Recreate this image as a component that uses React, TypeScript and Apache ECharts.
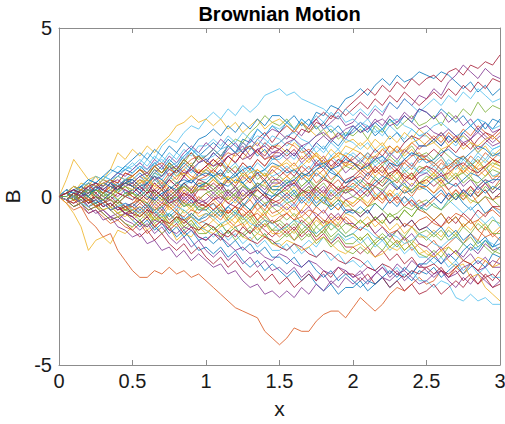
import React, { useEffect, useRef } from "react";
import * as echarts from "echarts";

const T = [0,0.05,0.1,0.15,0.2,0.25,0.3,0.35,0.4,0.45,0.5,0.55,0.6,0.65,0.7,0.75,0.8,0.85,0.9,0.95,1,1.05,1.1,1.15,1.2,1.25,1.3,1.35,1.4,1.45,1.5,1.55,1.6,1.65,1.7,1.75,1.8,1.85,1.9,1.95,2,2.05,2.1,2.15,2.2,2.25,2.3,2.35,2.4,2.45,2.5,2.55,2.6,2.65,2.7,2.75,2.8,2.85,2.9,2.95,3];

const COLORS = ["#0072BD", "#D95319", "#EDB120", "#7E2F8E", "#77AC30", "#4DBEEE", "#A2142F"];

const b00 = [0,0.2,-0.1,0.1,0.3,0.0,0.2,0.4,0.1,0.5,0.3,0.1,0.4,0.6,0.3,0.5,0.8,0.6,0.9,1.2,1.0,1.3,1.1,1.5,1.3,1.7,1.6,2.0,1.8,2.1,1.9,2.2,2.0,2.3,2.1,2.5,2.4,2.7,2.6,2.9,3.0,3.2,3.0,3.3,3.5,3.3,3.6,3.4,3.5,3.7,3.6,3.5,3.7,3.6,3.4,3.2,3.4,3.1,3.3,3.0,3.2];
const b01 = [0,-0.2,-0.4,-0.3,-0.7,-0.9,-1.2,-1.1,-1.6,-1.9,-2.2,-2.4,-2.4,-2.2,-2.3,-2.1,-2.3,-2.2,-2.4,-2.3,-2.5,-2.7,-2.9,-3.1,-3.3,-3.4,-3.5,-3.6,-4.0,-4.2,-4.4,-4.2,-3.9,-4.0,-4.0,-3.7,-3.5,-3.4,-3.4,-3.6,-3.3,-3.0,-3.2,-3.4,-3.2,-2.9,-2.7,-2.8,-2.6,-2.4,-2.6,-2.5,-2.2,-2.4,-2.1,-2.3,-2.0,-2.2,-1.9,-2.1,-1.8];
const b02 = [0,0.5,1.1,0.8,0.5,0.6,0.3,0.5,0.2,0.4,0.4,0.6,0.5,0.8,0.7,0.9,0.6,0.8,1.0,0.7,0.8,1.0,1.2,0.9,1.3,1.1,1.4,1.6,1.3,1.5,1.5,1.3,1.6,1.4,1.1,1.3,0.9,1.1,1.2,0.9,1.0,0.8,1.1,0.7,0.9,0.6,0.8,0.5,0.7,0.4,0.5,0.7,0.4,0.6,0.9,0.7,1.0,0.8,0.6,0.9,0.8];
const b03 = [0,0.1,-0.1,0.2,0.0,0.3,0.1,0.4,0.2,0.5,0.4,0.6,0.4,0.7,0.9,0.6,0.8,1.1,0.9,1.2,1.0,1.3,1.1,1.4,1.6,1.3,1.7,1.5,1.8,2.0,1.9,1.7,2.0,1.8,2.1,2.3,2.0,2.2,2.4,2.1,2.2,2.5,2.3,2.6,2.4,2.8,2.6,2.9,2.7,3.0,2.9,3.2,3.0,3.4,3.6,3.9,3.7,3.5,3.8,3.6,3.5];
const b04 = [0,-0.1,0.1,0.2,0.0,-0.2,0.1,0.0,0.2,0.4,0.3,0.5,0.4,0.7,0.6,0.9,0.8,1.0,1.3,1.1,1.2,1.4,1.2,1.5,1.7,1.6,1.9,2.1,2.4,2.2,2.1,2.3,2.0,2.2,1.9,2.1,1.8,2.0,1.7,1.9,1.8,2.0,1.7,2.1,1.9,2.3,2.0,2.2,2.4,2.1,2.2,2.4,2.1,2.5,2.3,2.6,2.4,2.8,2.5,2.7,2.6];
const b05 = [0,0.2,0.1,0.3,0.5,0.4,0.6,0.5,0.7,0.9,0.8,1.0,1.3,1.1,1.5,1.7,1.6,1.9,2.1,2.0,2.3,2.5,2.3,2.6,2.4,2.7,2.5,2.7,3.0,3.1,3.2,3.0,3.1,2.9,2.8,2.7,2.6,2.4,2.5,2.2,2.3,2.1,2.3,2.0,1.8,2.1,1.9,1.7,2.0,1.8,1.8,1.6,1.9,1.7,1.5,1.8,1.6,1.3,1.6,1.4,1.5];
const b06 = [0,-0.1,0.1,0.0,0.2,-0.1,0.1,0.3,0.1,0.0,0.2,0.4,0.2,0.5,0.3,0.6,0.8,0.6,0.9,0.7,0.9,1.1,0.9,1.2,1.0,1.3,1.5,1.3,1.6,1.4,1.6,1.8,1.7,2.0,1.9,2.2,2.1,2.4,2.3,2.6,2.8,3.0,3.2,3.0,3.3,3.1,3.4,3.2,3.5,3.3,3.5,3.6,3.4,3.7,3.8,3.6,3.9,3.8,4.0,3.9,4.2];
const b07 = [0,-0.1,0.1,-0.2,0.0,-0.3,-0.2,-0.4,-0.3,-0.5,-0.6,-0.8,-0.6,-0.9,-1.1,-0.9,-1.2,-1.0,-1.3,-1.6,-1.5,-1.7,-1.5,-1.8,-1.6,-1.9,-2.1,-1.9,-2.2,-2.0,-2.2,-2.4,-2.2,-2.5,-2.3,-2.6,-2.8,-2.6,-2.9,-2.7,-2.7,-2.5,-2.8,-2.6,-2.4,-2.7,-2.5,-2.3,-2.5,-2.2,-2.3,-2.1,-2.4,-2.2,-2.0,-2.3,-2.1,-1.9,-2.1,-1.7,-1.8];
const b08 = [0,-0.2,-0.1,-0.3,-0.5,-0.4,-0.6,-0.8,-0.7,-0.9,-1.0,-0.8,-1.1,-0.9,-0.7,-0.9,-0.6,-0.8,-0.5,-0.7,-0.5,-0.6,-0.4,-0.7,-0.9,-0.8,-1.1,-0.9,-1.2,-1.0,-1.2,-1.0,-1.3,-1.1,-0.9,-1.2,-1.0,-0.7,-0.9,-0.6,-0.8,-1.0,-0.8,-1.1,-1.3,-1.1,-1.4,-1.2,-1.6,-1.4,-1.5,-1.3,-1.6,-1.4,-1.2,-1.4,-1.1,-1.3,-0.9,-1.2,-1.0];
const b09 = [0,-0.2,-0.5,-0.9,-1.6,-1.3,-1.2,-1.4,-1.0,-1.1,-0.9,-0.7,-1.0,-0.8,-1.1,-0.9,-1.3,-1.1,-1.2,-0.9,-1.1,-0.9,-1.2,-1.0,-0.8,-0.6,-0.9,-0.7,-0.4,-0.6,-0.5,-0.3,-0.6,-0.4,-0.1,-0.3,0.0,-0.2,-0.4,-0.1,-0.2,0.0,-0.3,-0.1,0.2,0.0,0.3,0.1,0.4,0.2,0.3,0.1,0.4,0.2,-0.1,0.1,-0.2,0.0,0.2,-0.1,0.0];
const b10 = [0,-0.1,-0.3,-0.2,-0.5,-0.4,-0.7,-0.6,-0.9,-1.0,-1.2,-1.1,-1.4,-1.3,-1.6,-1.5,-1.8,-1.6,-1.9,-1.7,-1.9,-2.1,-2.0,-2.3,-2.2,-2.5,-2.7,-2.6,-2.9,-2.8,-3.0,-2.8,-3.0,-2.7,-2.9,-2.6,-2.8,-2.5,-2.7,-2.4,-2.6,-2.4,-2.6,-2.3,-2.1,-2.4,-2.2,-2.5,-2.3,-2.0,-2.2,-2.4,-2.2,-2.5,-2.7,-2.4,-2.6,-2.3,-2.5,-2.7,-2.5];
const b11 = [0,0.1,-0.1,0.0,-0.2,0.1,-0.1,-0.3,-0.1,-0.4,-0.3,-0.1,-0.3,0.0,0.2,-0.1,0.1,0.3,0.1,0.4,0.4,0.6,0.3,0.5,0.2,0.4,0.1,0.3,0.5,0.2,0.2,0.4,0.1,0.3,0.5,0.3,0.6,0.4,0.7,0.9,0.8,1.0,0.8,1.1,0.9,1.2,1.0,1.3,1.5,1.2,1.3,1.1,1.4,1.2,1.0,1.2,0.9,1.1,0.8,1.0,0.9];
const b12 = [0,0.1,-0.1,0.0,-0.2,-0.1,-0.3,-0.2,-0.4,-0.3,-0.5,-0.3,-0.6,-0.4,-0.7,-0.5,-0.8,-0.6,-0.9,-0.7,-0.8,-1.0,-0.8,-1.1,-0.9,-1.2,-1.0,-1.3,-1.1,-1.4,-1.4,-1.6,-1.4,-1.7,-1.5,-1.8,-1.6,-1.9,-1.7,-2.0,-1.9,-2.1,-1.9,-2.2,-2.0,-2.3,-2.1,-2.4,-2.2,-2.5,-2.5,-2.7,-2.5,-2.6,-3.0,-3.1,-2.9,-3.1,-3.0,-3.2,-3.2];
const b13 = [0,0.1,0.3,0.2,0.4,0.1,0.3,0.5,0.4,0.7,0.6,0.8,0.6,0.9,0.7,1.0,0.8,1.1,1.3,1.0,1.2,1.4,1.2,1.5,1.3,1.6,1.4,1.7,1.9,1.6,1.9,2.1,1.9,2.2,2.0,2.3,2.5,2.3,2.6,2.4,2.6,2.8,2.6,2.9,2.7,3.0,2.8,3.1,2.9,2.7,2.9,3.1,2.9,3.2,3.0,3.3,3.1,3.4,3.2,3.5,3.4];
const b14 = [0,0.1,-0.1,0.2,0.0,0.3,0.1,0.2,0.4,0.1,0.2,0.0,0.2,-0.1,0.1,-0.2,0.0,-0.3,-0.1,-0.4,-0.4,-0.2,-0.5,-0.3,-0.1,-0.3,0.0,0.2,0.0,0.3,0.3,0.5,0.3,0.6,0.4,0.7,0.5,0.8,0.6,0.4,0.6,0.4,0.7,0.5,0.3,0.5,0.2,0.4,0.1,0.3,0.2,0.0,0.2,-0.1,0.1,-0.2,-0.4,-0.2,-0.5,-0.3,-0.5];
const b15 = [0,0.2,0.1,0.3,0.2,0.4,0.3,0.5,0.4,0.7,0.6,0.8,0.6,0.9,0.7,1.0,0.8,1.1,0.9,0.7,0.9,0.7,1.0,0.8,0.6,0.8,0.5,0.7,0.4,0.6,0.4,0.6,0.4,0.7,0.5,0.8,1.0,0.8,1.1,0.9,1.2,1.0,1.3,1.1,1.4,1.2,1.5,1.3,1.6,1.4,1.6,1.8,1.6,1.9,1.7,2.0,1.8,2.1,1.9,1.7,1.9];
const b16 = [0,-0.1,0.1,-0.2,0.0,-0.3,-0.1,-0.3,-0.5,-0.3,-0.4,-0.6,-0.4,-0.7,-0.5,-0.8,-0.6,-0.9,-0.7,-1.0,-0.9,-0.7,-0.9,-0.6,-0.8,-0.5,-0.7,-0.4,-0.6,-0.2,-0.3,-0.5,-0.3,-0.6,-0.8,-0.6,-0.9,-0.7,-1.0,-1.2,-1.1,-1.3,-1.1,-1.4,-1.2,-1.5,-1.3,-1.6,-1.4,-1.7,-1.6,-1.8,-1.6,-1.9,-2.1,-2.0,-2.4,-2.3,-2.7,-2.9,-3.1];
const b17 = [0,-0.1,-0.2,0.0,-0.3,-0.2,-0.4,-0.6,-0.5,-0.7,-0.8,-1.0,-0.8,-1.1,-0.9,-1.2,-1.4,-1.2,-1.5,-1.3,-1.6,-1.8,-1.6,-1.9,-1.7,-2.0,-1.8,-2.1,-1.9,-2.2,-2.1,-2.3,-2.1,-2.4,-2.2,-2.5,-2.3,-2.6,-2.4,-2.2,-2.4,-2.2,-2.5,-2.3,-2.1,-2.3,-2.0,-2.2,-1.9,-2.1,-1.9,-1.7,-2.0,-1.8,-1.6,-1.8,-1.5,-1.7,-1.4,-1.6,-1.5];
const b18 = [0,0.1,0.0,0.2,0.1,0.3,0.2,0.4,0.2,0.5,0.4,0.2,0.4,0.1,0.3,0.0,0.2,0.4,0.1,0.3,0.2,0.0,0.2,-0.1,0.1,-0.2,-0.4,-0.2,-0.5,-0.3,-0.5,-0.7,-0.5,-0.8,-0.6,-0.9,-0.7,-1.0,-0.8,-1.1,-0.9,-0.7,-0.9,-0.6,-0.8,-0.5,-0.7,-0.4,-0.6,-0.3,-0.4,-0.2,-0.4,-0.1,0.1,-0.1,0.2,0.0,0.3,0.1,0.3];
const b19 = [0,0.2,0.1,0.3,0.2,0.4,0.6,0.5,0.7,0.8,0.9,1.1,0.9,1.2,1.0,1.3,1.1,1.4,1.2,1.5,1.5,1.7,1.5,1.8,1.6,1.9,1.7,2.0,1.8,2.1,2.0,2.2,2.0,2.3,2.1,2.4,2.2,2.5,2.3,2.6,2.4,2.6,2.4,2.7,2.5,2.8,2.6,2.9,2.7,2.5,2.7,2.9,2.7,3.0,2.8,3.1,2.9,3.2,3.0,2.8,2.9];
const b20 = [0,-0.1,-0.3,-0.2,-0.4,-0.3,-0.5,-0.7,-0.6,-0.8,-1.0,-1.2,-1.0,-1.3,-1.1,-1.4,-1.6,-1.4,-1.7,-1.5,-1.8,-2.0,-1.8,-2.1,-1.9,-2.2,-2.4,-2.2,-2.5,-2.3,-2.6,-2.4,-2.7,-2.5,-2.3,-2.5,-2.2,-2.4,-2.1,-2.3,-2.3,-2.5,-2.3,-2.6,-2.4,-2.7,-2.5,-2.8,-2.6,-2.9,-2.8,-2.6,-2.9,-2.7,-2.5,-2.7,-2.4,-2.6,-2.3,-2.5,-2.2];
const b21 = [0,0.1,0.3,0.2,0.4,0.3,0.5,0.4,0.6,0.8,0.7,0.9,0.7,1.0,0.8,1.1,0.9,1.2,1.4,1.2,1.4,1.6,1.4,1.7,1.5,1.3,1.5,1.2,1.4,1.1,1.2,1.4,1.2,1.5,1.3,1.6,1.4,1.7,1.5,1.8,1.9,2.1,1.9,2.2,2.0,2.3,2.1,2.4,2.2,2.6,2.5,2.3,2.6,2.4,2.2,2.4,2.1,2.3,2.0,2.3,2.2];
const b22 = [0,0.1,-0.1,0.0,-0.2,0.1,-0.1,-0.3,-0.1,-0.3,-0.2,0.0,-0.2,0.1,-0.1,0.2,0.0,0.3,0.1,0.4,0.3,0.5,0.3,0.6,0.4,0.7,0.5,0.8,0.6,0.9,0.8,0.6,0.8,0.5,0.7,0.4,0.6,0.3,0.5,0.2,0.4,0.2,0.4,0.1,-0.1,0.1,-0.2,0.0,-0.3,-0.1,-0.3,-0.1,0.1,-0.1,0.2,0.0,0.3,0.1,0.4,0.2,0.5];
const b23 = [0,0.2,0.1,0.4,0.3,0.6,0.5,0.8,1.3,1.1,1.4,1.2,1.5,1.3,1.6,1.8,2.1,2.2,2.4,2.2,2.3,2.1,2.3,2.0,2.2,1.9,2.1,2.3,2.0,2.2,2.3,2.1,1.9,2.2,2.0,1.8,2.0,1.7,1.9,1.6,1.7,1.5,1.7,1.4,1.6,1.3,1.5,1.2,1.4,1.1,1.2,1.0,1.2,0.9,1.1,0.8,1.0,0.7,0.9,0.6,0.6];
const b24 = [0,-0.1,0.1,0.0,0.2,0.1,-0.1,0.1,0.0,0.2,0.1,0.3,0.1,0.4,0.2,0.5,0.3,0.6,0.4,0.7,0.6,0.8,0.6,0.9,0.7,1.0,0.8,1.1,0.9,1.2,1.2,1.4,1.2,1.5,1.3,1.6,1.8,1.6,1.9,1.7,2.0,2.2,2.0,2.3,2.1,2.4,2.2,2.5,2.3,2.6,2.5,2.3,2.5,2.2,2.4,2.1,2.3,2.0,2.2,1.9,2.0];
const b25 = [0,-0.1,0.1,-0.1,-0.3,-0.2,-0.4,-0.3,-0.5,-0.4,-0.5,-0.7,-0.5,-0.8,-0.6,-0.9,-0.7,-1.0,-0.8,-1.1,-1.1,-0.9,-1.2,-1.0,-1.3,-1.1,-0.9,-1.1,-0.8,-1.0,-0.8,-1.0,-0.8,-1.1,-0.9,-1.2,-1.0,-1.3,-1.1,-1.4,-1.4,-1.2,-1.5,-1.3,-1.1,-1.3,-1.0,-1.2,-0.9,-1.1,-1.0,-1.2,-1.0,-1.3,-1.1,-1.4,-1.2,-1.5,-1.3,-1.6,-1.7];
const b26 = [0,0.1,-0.1,0.1,-0.2,0.0,-0.2,-0.1,-0.3,-0.2,-0.3,-0.5,-0.3,-0.6,-0.4,-0.7,-0.5,-0.8,-0.6,-0.9,-1.0,-1.2,-1.0,-1.3,-1.1,-1.4,-1.2,-1.5,-1.3,-1.6,-1.6,-1.4,-1.7,-1.5,-1.3,-1.5,-1.2,-1.4,-1.1,-1.3,-1.2,-1.4,-1.2,-1.5,-1.3,-1.6,-1.4,-1.7,-1.5,-1.8,-1.8,-2.0,-1.8,-2.1,-1.9,-2.2,-2.0,-2.3,-2.1,-2.4,-2.4];
const b27 = [0,0.1,0.0,0.2,0.1,0.3,0.2,0.4,0.2,0.4,0.3,0.1,0.3,0.0,0.2,-0.1,0.1,-0.2,0.0,-0.3,-0.2,-0.4,-0.2,-0.5,-0.3,-0.6,-0.4,-0.7,-0.9,-0.7,-0.9,-1.1,-0.9,-1.2,-1.0,-1.3,-1.1,-1.4,-1.2,-1.5,-1.5,-1.7,-1.5,-1.8,-1.6,-1.9,-1.7,-2.0,-1.8,-2.1,-2.1,-2.3,-2.1,-2.4,-2.2,-2.5,-2.3,-2.6,-2.4,-2.7,-2.6];
const b28 = [0,-0.1,0.0,-0.2,-0.1,-0.3,-0.2,-0.4,-0.6,-0.5,-0.7,-0.9,-0.7,-1.0,-0.8,-1.1,-0.9,-1.2,-1.0,-1.3,-1.2,-1.4,-1.2,-1.5,-1.3,-1.6,-1.4,-1.7,-1.5,-1.8,-1.8,-2.0,-1.8,-2.1,-1.9,-2.2,-2.4,-2.2,-2.5,-2.3,-2.5,-2.7,-2.5,-2.6,-2.4,-2.2,-2.4,-2.1,-2.3,-2.0,-2.0,-1.8,-2.0,-1.7,-1.9,-1.6,-1.4,-1.6,-1.3,-1.5,-1.2];
const b29 = [0,0.1,0.0,0.2,0.1,0.3,0.2,0.4,0.3,0.5,0.5,0.3,0.5,0.2,0.4,0.1,0.3,0.0,0.2,-0.1,0.1,-0.1,0.1,-0.2,0.0,-0.3,-0.1,-0.4,-0.2,-0.5,-0.4,-0.2,-0.4,-0.1,-0.3,0.0,-0.2,0.1,-0.1,0.2,0.2,0.4,0.2,0.5,0.3,0.6,0.4,0.7,0.5,0.8,0.9,0.7,1.0,0.8,1.1,0.9,1.2,1.0,1.3,1.1,1.3];
const b30 = [0,0.1,-0.1,0.1,0.0,0.2,0.1,0.3,0.1,0.3,0.2,0.4,0.2,0.5,0.3,0.6,0.4,0.7,0.5,0.8,0.7,0.5,0.7,0.4,0.6,0.3,0.5,0.2,0.4,0.1,0.3,0.1,0.3,0.0,0.2,-0.1,0.1,-0.2,0.0,-0.3,-0.2,0.0,-0.2,0.1,-0.1,0.2,0.0,0.3,0.1,0.4,0.4,0.6,0.4,0.7,0.5,0.8,0.6,0.9,1.1,0.9,1.1];
const b31 = [0,0.2,0.1,0.3,0.2,0.4,0.3,0.5,0.7,0.6,0.8,1.0,0.8,1.1,0.9,1.2,1.0,1.3,1.5,1.3,1.6,1.4,1.7,1.5,1.3,1.5,1.2,1.4,1.1,1.3,1.3,1.1,1.3,1.0,1.2,0.9,1.1,0.8,1.0,0.7,0.9,1.1,0.9,1.2,1.0,1.3,1.1,1.4,1.2,1.5,1.5,1.7,1.5,1.8,1.6,1.9,1.7,2.0,1.8,1.6,1.8];
const b32 = [0,-0.1,-0.3,-0.2,-0.4,-0.3,-0.5,-0.7,-0.6,-0.8,-0.9,-0.7,-0.9,-0.6,-0.8,-0.5,-0.7,-0.4,-0.6,-0.3,-0.4,-0.6,-0.4,-0.7,-0.5,-0.8,-0.6,-0.9,-0.7,-1.0,-1.0,-1.2,-1.0,-1.3,-1.1,-1.4,-1.2,-1.5,-1.3,-1.6,-1.7,-1.5,-1.7,-1.4,-1.6,-1.3,-1.5,-1.2,-1.4,-1.1,-1.3,-1.1,-1.3,-1.0,-1.2,-0.9,-1.1,-0.8,-1.0,-0.7,-0.8];
const b33 = [0,0.1,0.3,0.2,0.4,0.6,0.5,0.7,0.9,0.8,1.0,0.8,1.1,0.9,1.2,1.0,1.3,1.1,1.4,1.2,1.2,1.4,1.2,1.5,1.3,1.6,1.4,1.7,1.5,1.8,1.7,1.5,1.7,1.4,1.6,1.3,1.5,1.2,1.4,1.1,1.3,1.1,1.3,1.0,1.2,0.9,1.1,0.8,1.0,0.7,0.7,0.9,0.7,1.0,0.8,1.1,0.9,1.2,1.0,1.3,1.2];
const b34 = [0,-0.1,0.0,-0.2,-0.1,-0.3,-0.2,-0.4,-0.3,-0.5,-0.4,-0.2,-0.4,-0.1,-0.3,0.0,-0.2,0.1,-0.1,0.2,0.2,0.4,0.2,0.5,0.3,0.6,0.4,0.7,0.5,0.8,0.6,0.8,0.6,0.9,0.7,1.0,0.8,1.1,0.9,1.2,1.0,0.8,1.0,0.7,0.9,0.6,0.8,0.5,0.7,0.4,0.5,0.3,0.5,0.2,0.4,0.1,0.3,0.0,0.2,-0.1,0.1];
const b35 = [0,0.2,0.1,0.3,0.5,0.4,0.6,0.8,0.7,0.9,1.1,1.3,1.1,1.4,1.2,1.5,1.3,1.6,1.4,1.7,1.8,2.0,1.8,2.1,1.9,2.2,2.0,2.3,2.1,2.4,2.4,2.2,2.4,2.1,2.3,2.0,2.2,1.9,2.1,1.8,2.1,1.9,2.1,1.8,2.0,1.7,1.9,1.6,1.8,1.5,1.5,1.7,1.5,1.8,1.6,1.9,2.1,1.9,2.2,2.0,2.3];
const b36 = [0,-0.1,0.0,-0.2,-0.1,-0.3,-0.2,-0.4,-0.3,-0.5,-0.6,-0.4,-0.6,-0.3,-0.5,-0.2,-0.4,-0.1,-0.3,0.0,-0.2,-0.4,-0.2,-0.5,-0.3,-0.6,-0.4,-0.7,-0.5,-0.8,-0.7,-0.5,-0.7,-0.4,-0.6,-0.3,-0.5,-0.2,-0.4,-0.1,-0.3,-0.1,-0.3,0.0,-0.2,0.1,-0.1,0.2,0.0,0.3,0.3,0.1,0.3,0.0,0.2,-0.1,0.1,-0.2,0.0,-0.3,-0.4];
const b37 = [0,0.1,-0.1,0.1,-0.1,0.2,0.0,0.2,-0.1,0.1,0.0,-0.2,0.0,-0.3,-0.1,-0.4,-0.2,-0.5,-0.3,-0.6,-0.5,-0.7,-0.5,-0.8,-0.6,-0.9,-0.7,-1.0,-0.8,-1.1,-1.1,-0.9,-1.1,-0.8,-1.0,-0.7,-0.9,-0.6,-0.8,-0.5,-0.6,-0.8,-0.6,-0.9,-0.7,-1.0,-0.8,-1.1,-0.9,-1.2,-1.2,-1.0,-1.2,-0.9,-1.1,-0.8,-1.0,-0.7,-0.9,-1.1,-0.9];
const b38 = [0,0.1,-0.1,0.0,-0.2,-0.1,-0.3,-0.2,-0.4,-0.2,-0.3,-0.1,-0.3,0.0,-0.2,0.1,-0.1,0.2,0.0,0.3,0.3,0.1,0.3,0.0,0.2,-0.1,0.1,-0.2,0.0,-0.3,-0.2,-0.4,-0.2,-0.5,-0.3,-0.6,-0.4,-0.7,-0.5,-0.8,-0.8,-1.0,-0.8,-1.1,-0.9,-1.2,-1.0,-1.3,-1.1,-1.4,-1.5,-1.7,-1.5,-1.8,-1.6,-1.9,-1.7,-2.0,-1.8,-2.1,-2.1];
const b39 = [0,0.1,0.0,0.2,0.1,0.3,0.2,0.4,0.3,0.5,0.6,0.8,0.6,0.9,0.7,1.0,0.8,1.1,0.9,1.2,1.0,0.8,1.0,0.7,0.9,0.6,0.8,0.5,0.7,0.4,0.6,0.4,0.6,0.3,0.5,0.2,0.4,0.1,0.3,0.1,0.3,0.5,0.3,0.6,0.4,0.7,0.5,0.8,0.6,0.9,0.8,0.6,0.8,0.5,0.7,0.4,0.6,0.3,0.5,0.2,0.4];
const b40 = [0,0.1,-0.1,0.0,0.2,0.0,-0.2,0.0,-0.1,0.1,-0.1,0.1,-0.1,0.2,0.0,0.3,0.1,0.4,0.2,0.5,0.5,0.7,0.5,0.8,0.6,0.9,0.7,1.0,0.8,1.1,1.1,1.3,1.1,1.4,1.2,1.5,1.3,1.6,1.4,1.7,1.6,1.4,1.6,1.3,1.5,1.2,1.4,1.1,1.3,1.0,1.2,1.0,1.2,0.9,1.1,0.8,1.0,0.7,0.9,0.6,0.7];
const b41 = [0,0.1,-0.1,0.1,0.0,0.2,0.0,-0.1,0.1,0.0,0.1,0.3,0.1,0.4,0.2,0.5,0.3,0.6,0.8,0.7,0.9,1.1,0.9,1.2,1.0,1.3,1.1,1.4,1.2,1.5,1.4,1.2,1.4,1.1,1.3,1.0,1.2,0.9,1.1,1.0,1.1,1.3,1.1,1.4,1.2,1.5,1.3,1.6,1.8,1.7,1.9,1.7,1.9,1.6,1.8,1.5,1.7,1.4,1.6,1.8,1.6];
const b42 = [0,0.1,-0.1,0.0,-0.2,0.0,-0.1,-0.3,-0.1,-0.3,-0.2,-0.4,-0.2,-0.5,-0.3,-0.6,-0.4,-0.7,-0.5,-0.7,-0.6,-0.4,-0.6,-0.3,-0.5,-0.2,-0.4,-0.1,-0.3,0.0,0.1,-0.1,0.1,-0.2,0.0,-0.3,-0.1,-0.4,-0.2,-0.5,-0.4,-0.6,-0.4,-0.7,-0.5,-0.8,-0.6,-0.9,-0.7,-1.0,-0.9,-1.1,-0.9,-1.2,-1.0,-1.3,-1.1,-1.4,-1.2,-1.5,-1.4];
const b43 = [0,0.1,0.0,0.2,0.1,0.3,0.1,0.3,0.2,0.4,0.3,0.5,0.3,0.6,0.4,0.7,0.5,0.8,0.6,0.5,0.6,0.8,0.6,0.9,0.7,1.0,0.8,1.1,0.9,1.2,1.0,0.8,1.0,0.7,0.9,0.6,0.8,0.5,0.7,0.4,0.5,0.7,0.5,0.8,0.6,0.9,0.7,1.0,0.8,1.1,1.1,0.9,1.1,0.8,1.0,0.7,0.9,0.6,0.8,0.5,0.7];
const b44 = [0,-0.1,0.0,-0.2,-0.1,-0.3,-0.2,-0.4,-0.6,-0.5,-0.7,-0.5,-0.7,-0.4,-0.6,-0.3,-0.5,-0.2,-0.4,-0.2,-0.3,-0.1,-0.3,0.0,-0.2,0.1,-0.1,0.2,0.0,0.3,0.4,0.6,0.4,0.7,0.5,0.8,0.6,0.9,0.7,1.0,0.9,0.7,0.9,0.6,0.8,0.5,0.7,0.4,0.6,0.3,0.5,0.7,0.5,0.8,0.6,0.9,0.7,1.0,0.8,1.1,0.9];
const b45 = [0,0.1,0.0,0.2,0.1,0.3,0.2,0.4,0.2,0.5,0.4,0.2,0.4,0.1,0.3,0.0,0.2,-0.1,0.1,-0.2,-0.1,0.1,-0.1,0.2,0.0,0.3,0.1,0.4,0.2,0.5,0.5,0.3,0.5,0.2,0.4,0.1,0.3,0.0,0.2,0.1,0.2,0.0,0.2,-0.1,0.1,-0.2,0.0,-0.3,-0.1,-0.3,-0.2,0.0,-0.2,0.1,-0.1,0.2,0.0,0.3,0.5,0.4,0.6];
const b46 = [0,-0.1,0.0,-0.2,-0.1,-0.3,-0.2,-0.4,-0.2,-0.4,-0.4,-0.6,-0.4,-0.7,-0.5,-0.8,-0.6,-0.9,-0.7,-1.0,-0.8,-1.0,-0.8,-1.1,-0.9,-1.2,-1.0,-1.3,-1.1,-1.4,-1.3,-1.1,-1.3,-1.0,-1.2,-0.9,-1.1,-0.8,-1.0,-0.8,-0.9,-0.7,-0.9,-0.6,-0.8,-0.5,-0.7,-0.4,-0.6,-0.3,-0.5,-0.7,-0.5,-0.8,-0.6,-0.9,-0.7,-1.0,-0.8,-1.1,-1.1];
const b47 = [0,0.1,-0.1,0.1,0.0,0.2,0.0,0.2,0.1,0.3,0.2,0.4,0.2,0.5,0.3,0.6,0.4,0.3,0.5,0.3,0.4,0.2,0.4,0.1,0.3,0.0,0.2,-0.1,0.1,-0.2,-0.3,-0.1,-0.3,0.0,-0.2,0.1,-0.1,0.2,0.0,0.3,0.3,0.1,0.3,0.0,0.2,-0.1,0.1,-0.2,0.0,-0.3,-0.4,-0.2,-0.4,-0.1,-0.3,-0.5,-0.3,-0.6,-0.8,-0.6,-0.9];
const b48 = [0,-0.1,0.0,-0.2,-0.1,-0.3,-0.2,-0.4,-0.3,-0.5,-0.6,-0.8,-0.6,-0.9,-0.7,-1.0,-0.8,-1.1,-0.9,-1.2,-1.3,-1.1,-1.3,-1.0,-1.2,-0.9,-1.1,-0.8,-1.0,-1.2,-1.0,-0.8,-1.0,-0.7,-0.9,-0.6,-0.8,-0.5,-0.7,-0.4,-0.4,-0.6,-0.4,-0.7,-0.5,-0.8,-0.6,-0.9,-0.7,-1.0,-0.9,-0.7,-0.9,-0.6,-0.8,-0.5,-0.7,-0.4,-0.6,-0.3,-0.3];
const b49 = [0,0.1,0.0,0.2,0.1,0.3,0.2,0.4,0.3,0.5,0.5,0.7,0.5,0.8,0.6,0.9,0.7,1.0,0.8,0.6,0.8,0.6,0.8,0.5,0.7,0.4,0.6,0.3,0.5,0.2,0.2,0.0,0.2,-0.1,0.1,-0.2,0.0,-0.3,-0.1,-0.4,-0.5,-0.3,-0.5,-0.2,-0.4,-0.1,-0.3,0.0,-0.2,-0.4,-0.2,0.0,-0.2,0.1,-0.1,0.2,0.0,0.3,0.1,0.3,0.2];
const b50 = [0,0.1,-0.1,0.0,-0.2,0.0,-0.1,-0.3,-0.1,-0.3,-0.3,-0.5,-0.3,-0.6,-0.4,-0.7,-0.5,-0.8,-0.6,-0.8,-0.7,-0.5,-0.7,-0.4,-0.6,-0.3,-0.5,-0.2,-0.4,-0.1,-0.2,0.0,-0.2,0.1,-0.1,0.2,0.0,0.3,0.1,0.3,0.2,0.0,0.2,-0.1,0.1,-0.2,0.0,-0.3,-0.1,-0.4,-0.5,-0.7,-0.5,-0.8,-0.6,-0.9,-0.7,-1.0,-1.2,-1.1,-1.3];
const b51 = [0,0.1,0.3,0.2,0.4,0.3,0.5,0.4,0.6,0.5,0.6,0.4,0.6,0.3,0.5,0.2,0.4,0.1,0.3,0.2,0.3,0.5,0.3,0.6,0.4,0.7,0.5,0.8,0.6,0.9,0.9,1.1,0.9,1.2,1.0,1.3,1.1,1.4,1.2,1.5,1.4,1.6,1.4,1.7,1.5,1.8,1.6,1.9,1.7,2.0,1.8,1.6,1.8,1.5,1.7,1.4,1.6,1.3,1.5,1.2,1.4];
const b52 = [0,-0.1,0.0,-0.2,-0.1,-0.3,-0.2,-0.4,-0.3,-0.5,-0.5,-0.3,-0.5,-0.2,-0.4,-0.1,-0.3,0.0,-0.2,-0.1,-0.2,0.0,-0.2,0.1,-0.1,0.2,0.0,0.3,0.1,0.4,0.4,0.2,0.4,0.1,0.3,0.0,0.2,-0.1,0.1,-0.1,0.0,0.2,0.0,0.3,0.1,0.4,0.2,0.5,0.3,0.6,0.7,0.5,0.7,0.4,0.6,0.3,0.5,0.2,0.4,0.1,0.3];
const b53 = [0,0.1,-0.1,0.1,0.0,0.2,0.0,0.1,-0.1,0.1,0.1,-0.1,0.1,-0.2,0.0,-0.3,-0.1,-0.3,-0.2,-0.4,-0.3,-0.5,-0.3,-0.6,-0.4,-0.7,-0.5,-0.8,-0.6,-0.8,-0.7,-0.9,-0.7,-1.0,-0.8,-1.1,-0.9,-1.2,-1.0,-1.2,-1.1,-1.3,-1.1,-1.4,-1.2,-1.5,-1.3,-1.6,-1.4,-1.7,-1.8,-1.6,-1.8,-1.5,-1.7,-1.4,-1.6,-1.3,-1.5,-1.7,-1.5];
const b54 = [0,0.1,0.0,0.2,0.1,0.3,0.2,0.4,0.3,0.5,0.4,0.6,0.4,0.7,0.5,0.8,0.6,0.9,0.7,1.0,1.1,0.9,1.1,0.8,1.0,0.7,0.9,0.6,0.8,0.6,0.7,0.9,0.7,1.0,0.8,1.1,0.9,1.2,1.0,1.3,1.2,1.0,1.2,0.9,1.1,0.8,1.0,0.7,0.9,0.7,0.8,1.0,0.8,1.1,0.9,1.2,1.0,1.3,1.1,1.4,1.5];
const b55 = [0,0.1,-0.1,0.1,-0.1,0.0,-0.2,0.0,-0.2,0.0,-0.1,0.1,-0.1,0.2,0.0,0.3,0.1,0.4,0.2,0.5,0.4,0.2,0.4,0.1,0.3,0.0,0.2,-0.1,0.1,-0.2,-0.1,0.1,-0.1,0.2,0.0,0.3,0.1,0.4,0.2,0.5,0.6,0.8,0.6,0.9,0.7,1.0,0.8,1.1,0.9,1.2,1.2,1.4,1.2,1.5,1.3,1.6,1.4,1.7,1.9,1.8,2.0];
const b56 = [0,0.1,0.2,0.1,0.0,-0.2,-0.1,0.1,0.3,0.4,0.3,0.2,0.0,-0.1,0.1,0.2,0.4,0.5,0.4,0.6,0.7,0.6,0.4,0.3,0.5,0.4,0.2,0.3,0.1,0.0,0.2,0.4,0.5,0.7,0.6,0.8,0.9,0.7,0.6,0.4,0.5,0.3,0.2,0.4,0.6,0.5,0.3,0.1,0.2,0.4,0.3,0.5,0.6,0.4,0.3,0.5,0.7,0.6,0.4,0.5,0.5];
const b57 = [0,-0.1,0.0,0.2,0.3,0.2,0.4,0.5,0.3,0.4,0.6,0.8,0.7,0.9,1.0,0.8,0.7,0.9,1.1,1.2,1.0,0.9,1.1,1.3,1.2,1.4,1.5,1.3,1.1,1.2,1.4,1.6,1.5,1.3,1.4,1.2,1.0,1.1,1.3,1.2,1.0,0.9,0.7,0.8,1.0,1.1,0.9,1.0,1.2,1.3,1.1,1.0,0.8,0.9,1.1,1.2,1.0,0.8,0.9,1.1,1.0];
const b58 = [0,0.1,-0.1,-0.2,-0.1,-0.3,-0.4,-0.3,-0.5,-0.6,-0.4,-0.3,-0.5,-0.7,-0.6,-0.8,-0.9,-0.7,-0.6,-0.8,-1.0,-1.1,-0.9,-0.8,-1.0,-1.2,-1.3,-1.1,-1.2,-1.4,-1.5,-1.3,-1.4,-1.6,-1.5,-1.3,-1.2,-1.4,-1.6,-1.7,-1.5,-1.4,-1.6,-1.8,-1.7,-1.5,-1.6,-1.4,-1.3,-1.5,-1.7,-1.8,-1.6,-1.5,-1.7,-1.9,-2.0,-1.8,-1.9,-2.1,-2.0];
const b59 = [0,-0.1,-0.2,-0.1,-0.3,-0.5,-0.4,-0.6,-0.7,-0.5,-0.6,-0.8,-0.9,-0.7,-0.8,-1.0,-1.1,-0.9,-1.0,-1.2,-1.3,-1.1,-1.2,-1.4,-1.6,-1.5,-1.7,-1.6,-1.8,-1.9,-1.7,-1.8,-2.0,-2.1,-1.9,-2.0,-2.2,-2.3,-2.1,-2.2,-2.4,-2.3,-2.1,-2.2,-2.4,-2.5,-2.3,-2.2,-2.4,-2.6,-2.5,-2.3,-2.2,-2.4,-2.3,-2.1,-2.0,-2.2,-2.1,-1.9,-2.0];
const b60 = [0,0.1,0.0,-0.1,0.1,0.2,0.1,-0.1,-0.2,0.0,0.1,-0.1,-0.2,-0.4,-0.3,-0.1,0.0,-0.2,-0.3,-0.1,0.1,0.2,0.0,-0.1,0.1,0.3,0.2,0.4,0.3,0.1,0.0,-0.2,-0.1,0.1,0.2,0.0,-0.2,-0.3,-0.1,-0.2,-0.4,-0.5,-0.3,-0.2,-0.4,-0.6,-0.5,-0.3,-0.4,-0.2,-0.1,-0.3,-0.4,-0.2,0.0,0.1,-0.1,-0.2,0.0,-0.1,-0.3];
const b61 = [0,0.2,0.1,0.3,0.4,0.2,0.3,0.5,0.6,0.5,0.7,0.9,0.8,1.0,1.1,0.9,1.0,1.2,1.4,1.3,1.1,1.2,1.4,1.5,1.3,1.4,1.6,1.8,1.7,1.5,1.6,1.8,1.9,1.7,1.6,1.8,2.0,2.1,1.9,1.8,2.0,2.2,2.1,1.9,2.0,2.2,2.3,2.1,2.0,1.8,1.9,2.1,2.2,2.0,1.8,1.9,2.1,2.3,2.2,2.0,2.1];
const b62 = [0,-0.1,0.1,0.0,-0.2,-0.1,-0.3,-0.2,-0.4,-0.3,-0.5,-0.6,-0.4,-0.5,-0.7,-0.8,-0.6,-0.7,-0.9,-1.0,-0.8,-0.9,-1.1,-1.2,-1.0,-1.1,-1.3,-1.4,-1.2,-1.3,-1.5,-1.6,-1.4,-1.5,-1.7,-1.8,-1.6,-1.7,-1.9,-2.0,-1.8,-1.9,-2.1,-2.2,-2.0,-2.1,-2.3,-2.4,-2.2,-2.3,-2.1,-2.0,-2.2,-2.3,-2.1,-1.9,-2.0,-2.2,-2.4,-2.3,-2.5];
const b63 = [0,0.0,0.2,0.3,0.1,0.2,0.4,0.3,0.2,0.4,0.5,0.3,0.4,0.6,0.5,0.3,0.2,0.4,0.5,0.3,0.4,0.6,0.7,0.5,0.6,0.8,0.9,0.7,0.8,1.0,0.9,0.7,0.8,0.6,0.7,0.9,1.0,0.8,0.9,1.1,1.0,0.8,0.9,1.1,1.2,1.0,0.9,1.1,1.3,1.2,1.0,1.1,1.3,1.4,1.2,1.1,1.3,1.5,1.4,1.2,1.3];
const b64 = [0,-0.1,-0.2,0.0,-0.1,-0.3,-0.2,-0.1,-0.3,-0.4,-0.2,-0.1,-0.3,-0.4,-0.2,-0.3,-0.5,-0.6,-0.4,-0.5,-0.3,-0.2,-0.4,-0.5,-0.3,-0.4,-0.6,-0.5,-0.7,-0.8,-0.6,-0.5,-0.7,-0.6,-0.4,-0.5,-0.7,-0.8,-0.6,-0.7,-0.9,-1.0,-0.8,-0.7,-0.9,-1.1,-1.0,-0.8,-0.9,-0.7,-0.6,-0.8,-0.9,-0.7,-0.5,-0.6,-0.8,-0.7,-0.5,-0.4,-0.6];
const b65 = [0,0.1,0.3,0.2,0.1,0.3,0.4,0.2,0.1,0.3,0.2,0.4,0.5,0.3,0.2,0.4,0.6,0.7,0.5,0.6,0.8,0.7,0.5,0.6,0.4,0.5,0.7,0.8,0.6,0.7,0.9,1.0,0.8,0.9,1.1,1.2,1.0,1.1,1.3,1.2,1.4,1.3,1.1,1.2,1.4,1.5,1.3,1.4,1.6,1.7,1.5,1.6,1.4,1.5,1.7,1.8,1.6,1.5,1.7,1.8,1.6];
const b66 = [0,0.1,0.2,0.0,0.1,0.3,0.2,0.4,0.5,0.3,0.4,0.6,0.7,0.5,0.6,0.8,0.9,0.7,0.8,1.0,1.1,0.9,1.0,1.2,1.3,1.1,1.2,1.4,1.5,1.3,1.4,1.6,1.7,1.5,1.6,1.8,1.9,1.7,1.8,2.0,2.1,1.9,2.0,2.2,2.3,2.1,2.2,2.4,2.2,2.0,2.1,1.9,1.8,2.0,1.8,1.6,1.7,1.9,1.7,1.5,1.6];
const b67 = [0,0.0,-0.1,0.1,0.2,0.0,-0.1,0.0,0.2,0.3,0.1,0.0,0.2,0.1,-0.1,0.0,0.2,0.3,0.1,0.2,0.4,0.3,0.1,0.2,0.0,-0.1,0.1,0.0,-0.2,-0.1,0.1,0.2,0.0,0.1,0.3,0.2,0.0,-0.1,0.1,0.2,0.0,-0.1,0.1,0.3,0.2,0.4,0.5,0.3,0.2,0.4,0.6,0.5,0.3,0.4,0.6,0.7,0.5,0.4,0.6,0.8,0.7];
const b68 = [0,-0.1,0.0,-0.2,-0.3,-0.1,-0.2,-0.4,-0.3,-0.2,-0.4,-0.5,-0.3,-0.4,-0.6,-0.5,-0.3,-0.4,-0.6,-0.7,-0.5,-0.6,-0.8,-0.7,-0.5,-0.6,-0.8,-0.9,-0.7,-0.8,-1.0,-0.9,-0.7,-0.8,-1.0,-1.1,-0.9,-0.8,-1.0,-1.2,-1.1,-0.9,-1.0,-1.2,-1.3,-1.1,-1.2,-1.4,-1.3,-1.1,-1.2,-1.4,-1.5,-1.3,-1.2,-1.4,-1.6,-1.5,-1.3,-1.4,-1.6];
const b69 = [0,0.1,0.2,0.1,0.3,0.4,0.2,0.1,0.3,0.2,0.0,-0.1,0.1,0.2,0.0,-0.2,-0.1,0.1,0.0,-0.2,-0.3,-0.1,0.0,-0.2,-0.3,-0.1,0.1,0.2,0.0,-0.1,0.1,0.3,0.4,0.2,0.1,0.3,0.5,0.4,0.2,0.3,0.5,0.6,0.4,0.3,0.5,0.7,0.8,0.6,0.5,0.7,0.9,0.8,0.6,0.7,0.9,1.0,0.8,0.7,0.9,1.1,1.0];

const PATHS = [b00,b01,b02,b03,b04,b05,b06,b07,b08,b09,b10,b11,b12,b13,b14,b15,b16,b17,b18,b19,b20,b21,b22,b23,b24,b25,b26,b27,b28,b29,b30,b31,b32,b33,b34,b35,b36,b37,b38,b39,b40,b41,b42,b43,b44,b45,b46,b47,b48,b49,b50,b51,b52,b53,b54,b55,b56,b57,b58,b59,b60,b61,b62,b63,b64,b65,b66,b67,b68,b69];

const FONT = "Liberation Sans";
const AXIS = "#8c8c8c";
const INK = "#1a1a1a";

export default function App() {
  const ref = useRef<HTMLDivElement>(null);
  useEffect(() => {
    document.body.style.margin = "0";
    const chart = echarts.init(ref.current!, null, { renderer: "svg" });
    const axisLine = { show: true, onZero: false, lineStyle: { color: AXIS, width: 1 } };
    const axisTick = { show: true, inside: true, length: 5, lineStyle: { color: AXIS, width: 1 } };
    chart.setOption({
      animation: false,
      color: COLORS,
      textStyle: { fontFamily: FONT },
      graphic: [
        {
          type: "text",
          x: 279.5,
          y: 13.5,
          silent: true,
          style: {
            text: "Brownian Motion",
            fontFamily: FONT,
            fontSize: 20,
            fontWeight: "bold",
            fill: "#000",
            align: "center",
            verticalAlign: "middle",
          },
        },
      ],
      grid: { left: 59, right: 5, top: 28, bottom: 59, containLabel: false, outerBoundsMode: "none" },
      xAxis: [
        {
          type: "value", min: 0, max: 3, interval: 0.5, position: "bottom",
          axisLine, axisTick, splitLine: { show: false },
          axisLabel: { fontSize: 20, color: INK, margin: 6, fontFamily: FONT },
          name: "x", nameLocation: "middle", nameGap: 33,
          nameTextStyle: { fontSize: 21, color: INK, fontFamily: FONT },
        },
        {
          type: "value", min: 0, max: 3, interval: 0.5, position: "top",
          axisLine, axisTick, splitLine: { show: false }, axisLabel: { show: false },
        },
      ],
      yAxis: [
        {
          type: "value", min: -5, max: 5, interval: 5, position: "left",
          axisLine, axisTick, splitLine: { show: false },
          axisLabel: { fontSize: 20, color: INK, margin: 7, fontFamily: FONT },
          name: "B", nameLocation: "middle", nameGap: 30,
          nameTextStyle: { fontSize: 21, color: INK, fontFamily: FONT },
        },
        {
          type: "value", min: -5, max: 5, interval: 5, position: "right",
          axisLine, axisTick, splitLine: { show: false }, axisLabel: { show: false },
        },
      ],
      series: PATHS.map((p) => ({
        type: "line",
        xAxisIndex: 0,
        yAxisIndex: 0,
        data: p.map((v, k) => [T[k], v]),
        showSymbol: false,
        symbol: "none",
        silent: true,
        emphasis: { disabled: true },
        lineStyle: { width: 0.8 },
      })),
    });
    return () => chart.dispose();
  }, []);
  return <div ref={ref} style={{ width: 505, height: 424 }} />;
}
